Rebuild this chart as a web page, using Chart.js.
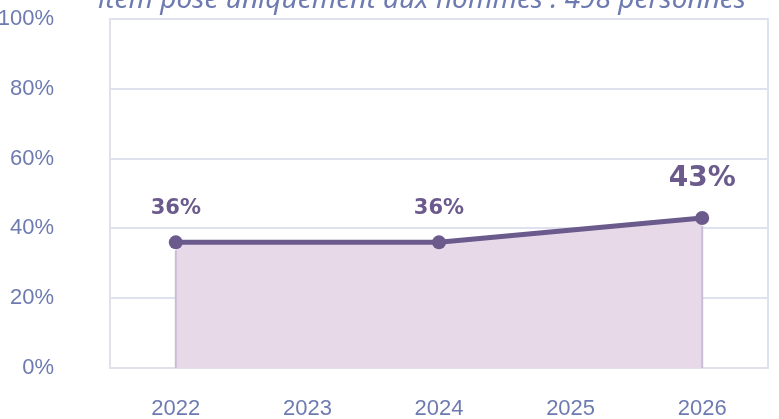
<!DOCTYPE html>
<html lang="fr">
<head>
    <meta charset="UTF-8">
    <title>Item posé uniquement aux hommes</title>
    <script src="https://cdn.jsdelivr.net/npm/chart.js"></script>
    <style>
        body {
            margin: 0;
            background: white;
        }
        .wrap {
            width: 779px;
            height: 419px;
        }
    </style>
</head>
<body>
    <div class="wrap"><canvas id="chart"></canvas></div>

    <script>
        const years = ["2022", "2023", "2024", "2025", "2026"];
        const shares = [36, null, 36, null, 43];
        const yTicks = [0, 20, 40, 60, 80, 100];
        const subtitle = "item posé uniquement aux hommes : 498 personnes";

        const lineColor = "#6b5a8c";
        const fillColor = "#e8d9e9";
        const edgeColor = "#c8bdd6";
        const gridColor = "#dfe1ee";
        const tickColor = "#6e7bb0";
        const tickFont = { family: "'Liberation Sans', sans-serif", size: 22 };

        // frame, fill edges, value labels and the cut-off subtitle
        const extras = {
            id: "extras",
            beforeDraw(chart) {
                const { ctx, chartArea: a } = chart;
                ctx.save();
                ctx.strokeStyle = gridColor;
                ctx.lineWidth = 2;
                ctx.strokeRect(a.left, a.top, a.right - a.left, a.bottom - a.top);
                ctx.restore();
            },
            afterDatasetsDraw(chart) {
                const { ctx, chartArea: a } = chart;
                const pts = chart.getDatasetMeta(0).data.filter((p, i) => shares[i] !== null);
                ctx.save();
                ctx.strokeStyle = edgeColor;
                ctx.lineWidth = 2;
                [pts[0], pts[pts.length - 1]].forEach(p => {
                    ctx.beginPath();
                    ctx.moveTo(p.x, p.y + 8);
                    ctx.lineTo(p.x, a.bottom);
                    ctx.stroke();
                });

                ctx.fillStyle = lineColor;
                ctx.textAlign = "center";
                ctx.textBaseline = "middle";
                const last = shares.length - 1;
                chart.getDatasetMeta(0).data.forEach((p, i) => {
                    if (shares[i] === null) return;
                    const big = i === last;
                    ctx.font = (big ? "bold 28px" : "bold 21px") + " 'DejaVu Sans', sans-serif";
                    ctx.fillText(shares[i] + "%", p.x, p.y - (big ? 39 : 34));
                });

                ctx.fillStyle = tickColor;
                ctx.font = "italic 28px 'Noto Sans', sans-serif";
                ctx.textBaseline = "alphabetic";
                ctx.fillText(subtitle, 422, 8);
                ctx.restore();
            }
        };

        new Chart(document.getElementById("chart"), {
            type: "line",
            data: {
                labels: years,
                datasets: [{
                    data: shares,
                    spanGaps: true,
                    borderColor: lineColor,
                    borderWidth: 5,
                    backgroundColor: fillColor,
                    fill: "origin",
                    pointRadius: 7,
                    pointHoverRadius: 7,
                    pointBackgroundColor: lineColor,
                    pointBorderWidth: 0,
                    tension: 0
                }]
            },
            options: {
                responsive: true,
                maintainAspectRatio: false,
                animation: false,
                layout: { padding: { top: 19, right: 11, left: 0, bottom: 0 } },
                plugins: {
                    legend: { display: false },
                    tooltip: { enabled: false }
                },
                scales: {
                    x: {
                        offset: true,
                        grid: { display: false },
                        border: { display: false },
                        ticks: {
                            color: tickColor,
                            padding: 20,
                            font: tickFont
                        },
                        afterFit(scale) { scale.height = 51; }
                    },
                    y: {
                        min: 0,
                        max: 100,
                        afterBuildTicks(scale) { scale.ticks = yTicks.map(v => ({ value: v })); },
                        grid: { color: gridColor, lineWidth: 2, drawTicks: false },
                        border: { display: false },
                        ticks: {
                            color: tickColor,
                            padding: 56,
                            callback: v => v + "%",
                            font: tickFont
                        },
                        afterFit(scale) {
                            scale.width = 110;
                            scale.paddingTop = 0;
                            scale.paddingBottom = 0;
                        }
                    }
                }
            },
            plugins: [extras]
        });
    </script>
</body>
</html>
